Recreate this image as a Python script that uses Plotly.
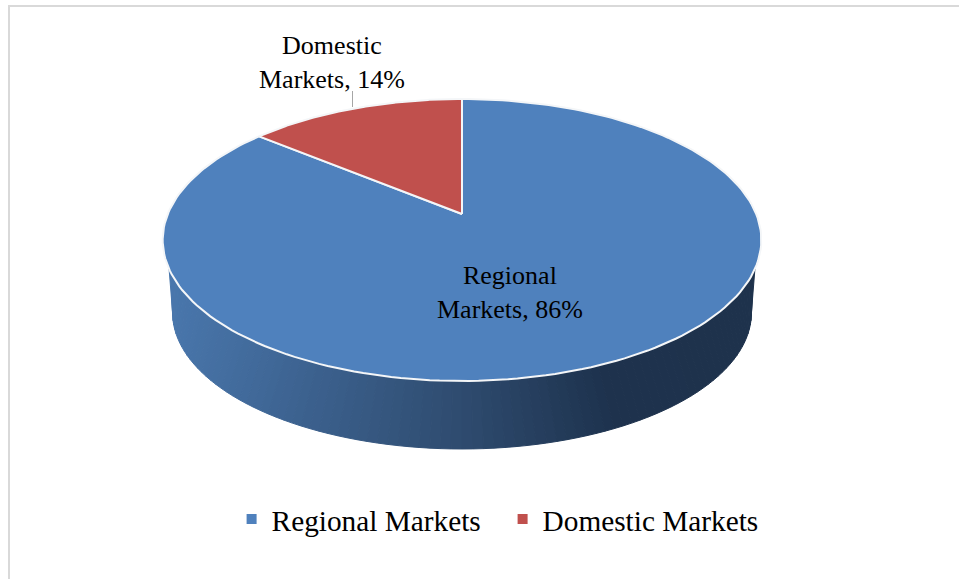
import numpy as np
import plotly.graph_objects as go

MARKETS = ['Regional Markets', 'Domestic Markets']
LABEL_LINES = [('Regional', 'Markets'), ('Domestic', 'Markets')]
SHARES = [86, 14]
COLORS = ['#4F81BD', '#C0504D']

# wall shading, left to right across the pie
WALL_STOPS = [0.0, 0.25, 0.5, 0.75, 1.0]
WALL_COLORS = [(74, 120, 174), (60, 97, 142), (47, 76, 112), (30, 51, 78), (30, 50, 76)]

_FONT = 'Liberation Serif, Times New Roman, serif'
_CX, _CY = 462, 214
_A, _B, _K = 294.2, 136.2, 0.1844
_BOTTOM_Y, _BOTTOM_SCALE = 287.5, 0.967


def top_xy(theta):
    # theta runs clockwise from 12 o'clock, with a perspective tilt
    u, v = np.sin(theta), np.cos(theta)
    w = 1 + _K * v
    return _CX + _A * u / w, _CY - _B * v / w


def bottom_xy(theta):
    u, v = np.sin(theta), np.cos(theta)
    w = 1 + _K * v
    return _CX + _BOTTOM_SCALE * _A * u / w, _BOTTOM_Y - _BOTTOM_SCALE * _B * v / w


def wall_color(frac):
    rgb = [np.interp(frac, WALL_STOPS, [c[i] for c in WALL_COLORS]) for i in range(3)]
    return 'rgb(%d,%d,%d)' % tuple(rgb)


fig = go.Figure()

# frame of the chart area
fig.add_trace(go.Scatter(x=[9, 9, 959], y=[579, 6, 6], mode='lines', showlegend=False,
                         line=dict(color='#d9d9d9', width=2), hoverinfo='skip'))

# side wall as thin strips so it can carry the horizontal shading
n = 90
top_t = np.pi - np.radians(np.linspace(-67.9, 67.9, n + 1))
bot_t = np.pi - np.radians(np.linspace(-79.6, 79.6, n + 1))
tx, ty = top_xy(top_t)
bx, by = bottom_xy(bot_t)
for i in range(n):
    frac = ((tx[i] + tx[i + 1] + bx[i] + bx[i + 1]) / 4 - 165) / 590
    col = wall_color(frac)
    fig.add_trace(go.Scatter(
        x=[tx[i], tx[i + 1], bx[i + 1], bx[i], tx[i]],
        y=[ty[i], ty[i + 1], by[i + 1], by[i], ty[i]],
        mode='lines', fill='toself', fillcolor=col, line=dict(color=col, width=1),
        showlegend=False, hoverinfo='skip'))

# top face, first slice starts at 12 o'clock
start = 0.0
for name, share, color in zip(MARKETS, SHARES, COLORS):
    end = start + 2 * np.pi * share / sum(SHARES)
    t = np.linspace(start, end, 200)
    x, y = top_xy(t)
    fig.add_trace(go.Scatter(
        x=np.r_[_CX, x, _CX], y=np.r_[_CY, y, _CY], mode='lines', fill='toself',
        fillcolor=color, line=dict(color='#f4f6f8', width=2), showlegend=False,
        name=name, hoverinfo='name'))
    start = end

# legend entries
for name, color in zip(MARKETS, COLORS):
    fig.add_trace(go.Scatter(x=[None], y=[None], mode='markers', name=name,
                             marker=dict(color=color, symbol='square', size=10)))

# leader line of the small slice
fig.add_shape(type='line', x0=352.5, x1=352.5, y0=91, y1=107, line=dict(color='#a6a6a6', width=1))

label_pos = [(510, 292), (332, 62)]
for (l1, l2), share, (lx, ly) in zip(LABEL_LINES, SHARES, label_pos):
    fig.add_annotation(x=lx, y=ly, text='%s<br>%s, %d%%' % (l1, l2, share), showarrow=False,
                       font=dict(family=_FONT, size=26, color='#000000'))

fig.update_layout(
    width=959,
    height=579,
    margin=dict(l=0, r=0, t=0, b=0),
    paper_bgcolor='#FFFFFF',
    plot_bgcolor='#FFFFFF',
    showlegend=True,
    legend=dict(orientation='h', x=0.2415, y=0.1027, xanchor='left', yanchor='middle',
                entrywidth=226, entrywidthmode='pixels',
                font=dict(family=_FONT, size=29.3, color='#000000'),
                bgcolor='rgba(0,0,0,0)'),
)
fig.update_xaxes(range=[0, 959], visible=False, fixedrange=True)
fig.update_yaxes(range=[579, 0], visible=False, fixedrange=True)

fig.write_html('out.html', post_script="document.body.style.margin = '0';",
               config=dict(displayModeBar=False))
